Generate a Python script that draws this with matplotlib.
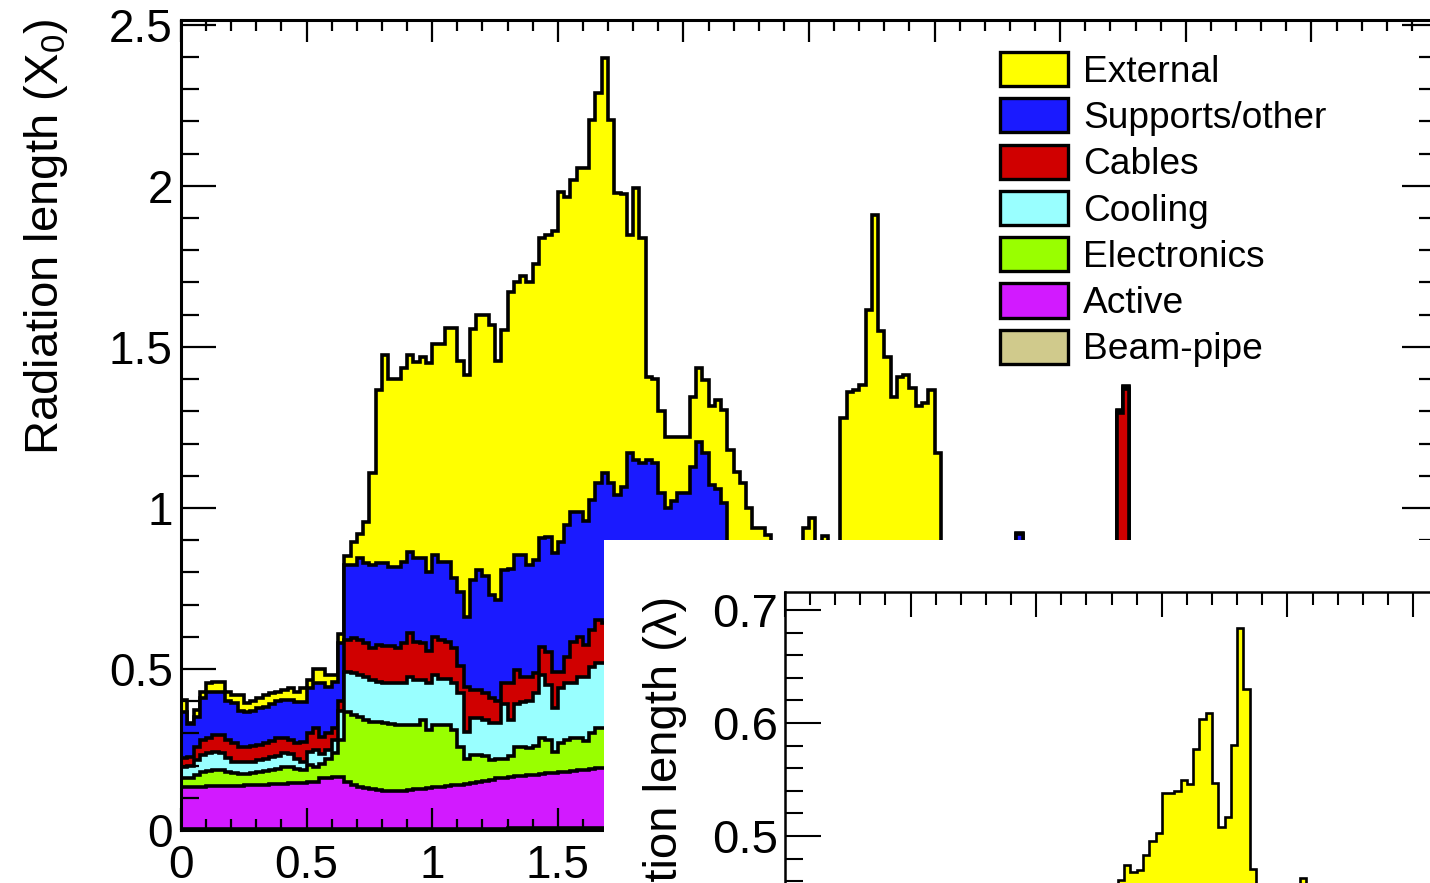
import numpy as np
import matplotlib.pyplot as plt
from matplotlib.patches import Patch
from matplotlib.ticker import MultipleLocator, FormatStrFormatter

plt.rcParams['font.family'] = ['Liberation Sans', 'DejaVu Sans']
plt.rcParams['mathtext.fontset'] = 'custom'
plt.rcParams['mathtext.rm'] = 'Liberation Sans'
plt.rcParams['mathtext.it'] = 'Liberation Sans:italic'

bin_width = 0.025  # eta bins

# cumulative top of each layer of the stack (radiation length in X0), one value per eta bin
top_external = [
    0.404, 0.332, 0.373, 0.430, 0.456, 0.460, 0.460, 0.430, 0.420, 0.420, 0.394, 0.400, 0.410, 0.420, 0.425, 0.430, 0.435,
    0.440, 0.430, 0.440, 0.466, 0.500, 0.500, 0.480, 0.480, 0.610, 0.850, 0.895, 0.920, 0.957, 1.108, 1.366, 1.475, 1.400,
    1.400, 1.435, 1.475, 1.454, 1.470, 1.450, 1.510, 1.510, 1.560, 1.560, 1.455, 1.412, 1.555, 1.600, 1.600, 1.568, 1.457,
    1.553, 1.670, 1.700, 1.720, 1.700, 1.757, 1.838, 1.848, 1.860, 1.980, 1.966, 2.018, 2.055, 2.055, 2.205, 2.288, 2.396,
    2.205, 1.978, 1.975, 1.848, 1.994, 1.838, 1.408, 1.400, 1.300, 1.221, 1.221, 1.221, 1.220, 1.345, 1.434, 1.398, 1.315,
    1.335, 1.304, 1.180, 1.113, 1.077, 0.999, 0.937, 0.937, 0.916,
    0.860, 0.820, 0.780, 0.740, 0.800, 0.937, 0.968, 0.870, 0.913, 0.620, 0.580,
    1.279, 1.361, 1.366, 1.382, 1.615, 1.910, 1.548, 1.470, 1.345, 1.408, 1.413, 1.373, 1.315, 1.325, 1.366, 1.170,
    0.700, 0.650, 0.600, 0.550, 0.500, 0.460, 0.450, 0.420, 0.400, 0.380, 0.360, 0.350,
    0.922,
    0.350, 0.340, 0.340, 0.330, 0.330, 0.320, 0.320, 0.310, 0.310, 0.300, 0.300, 0.300, 0.290, 0.290, 0.290,
    1.304, 1.379, 0.280,
]
top_supports = [
    0.367, 0.330, 0.352, 0.410, 0.430, 0.430, 0.430, 0.400, 0.395, 0.370, 0.367, 0.370, 0.378, 0.383, 0.390, 0.400, 0.405,
    0.405, 0.398, 0.398, 0.440, 0.456, 0.456, 0.445, 0.460, 0.580, 0.823, 0.823, 0.845, 0.830, 0.823, 0.828, 0.828, 0.818,
    0.818, 0.833, 0.864, 0.845, 0.845, 0.800, 0.854, 0.833, 0.833, 0.782, 0.740, 0.660, 0.776, 0.807, 0.790, 0.730, 0.714,
    0.807, 0.810, 0.854, 0.854, 0.823, 0.838, 0.906, 0.911, 0.860, 0.895, 0.947, 0.988, 0.988, 0.960, 1.025, 1.077, 1.108,
    1.077, 1.040, 1.066, 1.170, 1.149, 1.140, 1.149, 1.140, 1.046, 1.000, 1.020, 1.046, 1.046, 1.128, 1.206, 1.170, 1.070,
    1.060, 1.015, 0.880, 0.850, 0.820, 0.780, 0.750, 0.720, 0.700,
    0.680, 0.650, 0.620, 0.600, 0.640, 0.700, 0.720, 0.680, 0.700, 0.500, 0.480,
    0.600, 0.640, 0.660, 0.680, 0.700, 0.720, 0.700, 0.680, 0.660, 0.680, 0.700, 0.680, 0.660, 0.660, 0.680, 0.600,
    0.550, 0.520, 0.500, 0.460, 0.430, 0.400, 0.390, 0.370, 0.350, 0.340, 0.320, 0.310,
    0.920,
    0.300, 0.300, 0.290, 0.290, 0.280, 0.280, 0.270, 0.270, 0.260, 0.260, 0.260, 0.250, 0.250, 0.250, 0.250,
    1.300, 1.374, 0.240,
]
top_cables = [
    0.223, 0.226, 0.259, 0.280, 0.285, 0.295, 0.295, 0.280, 0.270, 0.259, 0.258, 0.262, 0.265, 0.270, 0.275, 0.285, 0.285,
    0.280, 0.269, 0.274, 0.300, 0.316, 0.290, 0.300, 0.316, 0.400, 0.590, 0.595, 0.590, 0.580, 0.565, 0.575, 0.570, 0.570,
    0.565, 0.580, 0.611, 0.585, 0.580, 0.556, 0.600, 0.590, 0.585, 0.565, 0.508, 0.445, 0.435, 0.435, 0.425, 0.410, 0.400,
    0.455, 0.455, 0.497, 0.476, 0.476, 0.486, 0.569, 0.554, 0.490, 0.490, 0.538, 0.585, 0.600, 0.575, 0.620, 0.652, 0.642,
    0.640, 0.620, 0.630, 0.650, 0.640, 0.630, 0.620, 0.610, 0.600, 0.590, 0.590, 0.600, 0.600, 0.620, 0.640, 0.630, 0.610,
    0.600, 0.590, 0.560, 0.540, 0.520, 0.500, 0.480, 0.460, 0.450,
    0.440, 0.420, 0.400, 0.390, 0.400, 0.420, 0.430, 0.420, 0.420, 0.360, 0.350,
    0.400, 0.420, 0.430, 0.440, 0.450, 0.460, 0.450, 0.440, 0.430, 0.440, 0.450, 0.440, 0.430, 0.430, 0.440, 0.400,
    0.380, 0.360, 0.350, 0.330, 0.310, 0.300, 0.290, 0.280, 0.270, 0.260, 0.250, 0.240,
    0.600,
    0.230, 0.230, 0.220, 0.220, 0.210, 0.210, 0.200, 0.200, 0.200, 0.190, 0.190, 0.190, 0.180, 0.180, 0.180,
    1.295, 1.369, 0.170,
]
top_cooling = [
    0.197, 0.198, 0.217, 0.233, 0.238, 0.243, 0.240, 0.223, 0.212, 0.210, 0.210, 0.212, 0.217, 0.222, 0.227, 0.230, 0.238,
    0.236, 0.222, 0.212, 0.243, 0.248, 0.235, 0.248, 0.280, 0.370, 0.490, 0.486, 0.481, 0.476, 0.466, 0.460, 0.455, 0.455,
    0.455, 0.455, 0.476, 0.466, 0.466, 0.455, 0.481, 0.470, 0.470, 0.455, 0.424, 0.305, 0.347, 0.347, 0.342, 0.331, 0.331,
    0.390, 0.342, 0.390, 0.398, 0.400, 0.424, 0.480, 0.450, 0.378, 0.440, 0.455, 0.455, 0.476, 0.476, 0.507, 0.518, 0.518,
    0.520, 0.510, 0.515, 0.525, 0.520, 0.515, 0.510, 0.500, 0.495, 0.490, 0.490, 0.495, 0.495, 0.505, 0.515, 0.510, 0.500,
    0.495, 0.485, 0.460, 0.440, 0.420, 0.400, 0.385, 0.370, 0.360,
    0.350, 0.340, 0.330, 0.320, 0.330, 0.340, 0.350, 0.340, 0.340, 0.300, 0.290,
    0.330, 0.340, 0.350, 0.360, 0.370, 0.380, 0.370, 0.360, 0.350, 0.360, 0.370, 0.360, 0.350, 0.350, 0.360, 0.330,
    0.310, 0.300, 0.290, 0.280, 0.260, 0.250, 0.240, 0.230, 0.220, 0.210, 0.200, 0.200,
    0.250,
    0.190, 0.190, 0.180, 0.180, 0.170, 0.170, 0.170, 0.160, 0.160, 0.160, 0.150, 0.150, 0.150, 0.140, 0.140,
    0.300, 0.300, 0.140,
]
top_electronics = [
    0.160, 0.160, 0.171, 0.181, 0.183, 0.185, 0.187, 0.181, 0.176, 0.175, 0.175, 0.176, 0.180, 0.183, 0.186, 0.188, 0.195,
    0.196, 0.190, 0.186, 0.202, 0.197, 0.205, 0.222, 0.238, 0.280, 0.367, 0.357, 0.352, 0.342, 0.336, 0.336, 0.331, 0.328,
    0.326, 0.326, 0.326, 0.326, 0.342, 0.310, 0.326, 0.326, 0.326, 0.310, 0.259, 0.222, 0.233, 0.233, 0.230, 0.217, 0.220,
    0.222, 0.230, 0.259, 0.259, 0.254, 0.260, 0.285, 0.280, 0.243, 0.270, 0.280, 0.285, 0.285, 0.275, 0.300, 0.316, 0.316,
    0.320, 0.315, 0.318, 0.325, 0.322, 0.318, 0.315, 0.310, 0.305, 0.300, 0.300, 0.302, 0.302, 0.308, 0.315, 0.312, 0.305,
    0.300, 0.295, 0.285, 0.275, 0.265, 0.255, 0.245, 0.235, 0.230,
    0.225, 0.220, 0.215, 0.210, 0.215, 0.220, 0.225, 0.220, 0.220, 0.200, 0.195,
    0.215, 0.220, 0.225, 0.230, 0.235, 0.240, 0.235, 0.230, 0.225, 0.230, 0.235, 0.230, 0.225, 0.225, 0.230, 0.215,
    0.205, 0.200, 0.195, 0.190, 0.180, 0.175, 0.170, 0.165, 0.160, 0.155, 0.150, 0.150,
    0.170,
    0.145, 0.145, 0.140, 0.140, 0.135, 0.135, 0.130, 0.130, 0.125, 0.125, 0.120, 0.120, 0.120, 0.115, 0.115,
    0.200, 0.200, 0.110,
]
top_active = [
    0.134, 0.134, 0.135, 0.135, 0.136, 0.136, 0.137, 0.137, 0.138, 0.138, 0.139, 0.139, 0.140, 0.141, 0.142, 0.143, 0.144,
    0.145, 0.146, 0.147, 0.148, 0.150, 0.160, 0.163, 0.166, 0.165, 0.150, 0.140, 0.134, 0.130, 0.126, 0.124, 0.122, 0.120,
    0.120, 0.122, 0.124, 0.126, 0.128, 0.130, 0.132, 0.135, 0.137, 0.139, 0.141, 0.144, 0.147, 0.150, 0.153, 0.156, 0.160,
    0.163, 0.165, 0.167, 0.169, 0.170, 0.172, 0.174, 0.176, 0.177, 0.179, 0.181, 0.183, 0.185, 0.187, 0.189, 0.191, 0.192,
    0.192, 0.193, 0.194, 0.195, 0.195, 0.196, 0.196, 0.197, 0.197, 0.198, 0.198, 0.199, 0.199, 0.200, 0.200, 0.200, 0.200,
    0.198, 0.195, 0.190, 0.180, 0.170, 0.160, 0.150, 0.140, 0.135,
    0.130, 0.128, 0.125, 0.122, 0.120, 0.118, 0.116, 0.114, 0.112, 0.110, 0.108,
    0.110, 0.112, 0.114, 0.116, 0.118, 0.120, 0.118, 0.116, 0.114, 0.116, 0.118, 0.116, 0.114, 0.112, 0.110, 0.105,
    0.100, 0.098, 0.096, 0.094, 0.092, 0.090, 0.088, 0.086, 0.084, 0.082, 0.080, 0.080,
    0.080,
    0.078, 0.078, 0.076, 0.076, 0.074, 0.074, 0.072, 0.072, 0.070, 0.070, 0.068, 0.068, 0.066, 0.066, 0.064,
    0.080, 0.080, 0.062,
]
top_beampipe = [0.002] * 52 + [0.006] * 100

# inset: interaction length (lambda), top of the stack
inset_top = [
    0.210, 0.200, 0.205, 0.215, 0.220, 0.222, 0.222, 0.215, 0.212, 0.210, 0.205, 0.208, 0.210, 0.212, 0.215, 0.218, 0.220,
    0.222, 0.220, 0.222, 0.230, 0.238, 0.236, 0.234, 0.236, 0.260, 0.330, 0.335, 0.340, 0.345, 0.350, 0.355, 0.360, 0.360,
    0.365, 0.368, 0.375, 0.372, 0.375, 0.370, 0.385, 0.385, 0.390, 0.385, 0.380, 0.375, 0.395, 0.405, 0.410, 0.405, 0.400,
    0.420, 0.440,
    0.461, 0.474, 0.468, 0.470, 0.483, 0.496, 0.503, 0.538, 0.538, 0.540, 0.550, 0.546, 0.577, 0.604, 0.609, 0.547, 0.508,
    0.517, 0.581, 0.684, 0.630, 0.471,
    0.440, 0.420, 0.400, 0.390, 0.400, 0.410, 0.430, 0.463, 0.440, 0.420, 0.400, 0.380, 0.370, 0.360, 0.350, 0.340, 0.330,
    0.320, 0.310, 0.300, 0.290, 0.290, 0.280, 0.280, 0.270, 0.260, 0.260, 0.250, 0.250,
]

labels = ['External', 'Supports/other', 'Cables', 'Cooling', 'Electronics', 'Active', 'Beam-pipe']
colors = ['#FFFF00', '#1A1AFF', '#D00000', '#99FFFF', '#99FF00', '#D21AFF', '#D0CA8C']

W, H = 1430, 883
fig = plt.figure(figsize=(W / 100, H / 100), dpi=100)


def px_rect(left, top, right, bottom):
    # figure pixel box -> add_axes rect
    return [left / W, 1 - bottom / H, (right - left) / W, (bottom - top) / H]


# main pad
ax = fig.add_axes(px_rect(181, 20, 1437, 830), zorder=0)
levels = [top_external, top_supports, top_cables, top_cooling, top_electronics, top_active, top_beampipe]
edges = np.arange(len(top_external) + 1) * bin_width
for level, col in zip(levels, colors):
    ax.stairs(level, edges, baseline=0, fill=True, facecolor=col, edgecolor='black',
              linewidth=2.6, joinstyle='miter')

ax.set_xlim(0, 5)
ax.set_ylim(0, 2.515)
ax.xaxis.set_major_locator(MultipleLocator(0.5))
ax.xaxis.set_minor_locator(MultipleLocator(0.1))
ax.yaxis.set_major_locator(MultipleLocator(0.5))
ax.yaxis.set_minor_locator(MultipleLocator(0.1))
ax.xaxis.set_major_formatter(FormatStrFormatter('%g'))
ax.yaxis.set_major_formatter(FormatStrFormatter('%g'))
ax.tick_params(which='both', direction='in', top=True, right=True, width=1.6)
ax.tick_params(axis='y', which='major', length=25, labelsize=33, pad=6)
ax.tick_params(axis='y', which='minor', length=13)
ax.tick_params(axis='x', which='major', length=16, labelsize=33, pad=10)
ax.tick_params(axis='x', which='minor', length=8)
for s in ax.spines.values():
    s.set_linewidth(2.2)

ax.set_ylabel('Radiation length (X$_0$)', fontsize=34, loc='top')
ax.yaxis.label.set_va('center')
ax.yaxis.set_label_coords(46 / W, 1 - 18 / H, transform=fig.transFigure)

handles = [Patch(facecolor=c, edgecolor='black', linewidth=2.4, label=l) for c, l in zip(colors, labels)]
ax.legend(handles=handles, loc='upper left', bbox_to_anchor=(1000 / W, 1 - 52 / H),
          bbox_transform=fig.transFigure, frameon=False, fontsize=26.7,
          handlelength=1.84, handleheight=1.04, handletextpad=0.4,
          labelspacing=0.23, borderpad=0, borderaxespad=0)

# white pad holding the inset
pad = fig.add_axes(px_rect(604, 540, 1430, 883), zorder=1)
pad.set_facecolor('white')
pad.set_xticks([])
pad.set_yticks([])
for s in pad.spines.values():
    s.set_visible(False)

# inset: interaction length
axi = fig.add_axes(px_rect(785, 592, 2041, 949), zorder=2)
axi.set_facecolor('none')
edges_in = np.arange(len(inset_top) + 1) * bin_width
axi.stairs(inset_top, edges_in, baseline=0, fill=True, facecolor=colors[0], edgecolor='black',
           linewidth=1.9, joinstyle='miter')
axi.set_xlim(0, 5)
axi.set_ylim(0.4, 0.716)
axi.xaxis.set_major_locator(MultipleLocator(0.5))
axi.xaxis.set_minor_locator(MultipleLocator(0.1))
axi.yaxis.set_major_locator(MultipleLocator(0.1))
axi.yaxis.set_minor_locator(MultipleLocator(0.02))
axi.yaxis.set_major_formatter(FormatStrFormatter('%g'))
axi.tick_params(which='both', direction='in', top=True, right=True, bottom=False,
                labelbottom=False, width=1.5)
axi.tick_params(axis='y', which='major', length=26, labelsize=34, pad=5)
axi.tick_params(axis='y', which='minor', length=13)
axi.tick_params(axis='x', which='major', length=18)
axi.tick_params(axis='x', which='minor', length=9)
for s in axi.spines.values():
    s.set_linewidth(1.8)

axi.set_ylabel('Interaction length (λ)', fontsize=34, loc='top')
axi.yaxis.label.set_va('center')
axi.yaxis.set_label_coords(665 / W, 1 - 596 / H, transform=fig.transFigure)

fig.savefig('out.png', dpi=100)
